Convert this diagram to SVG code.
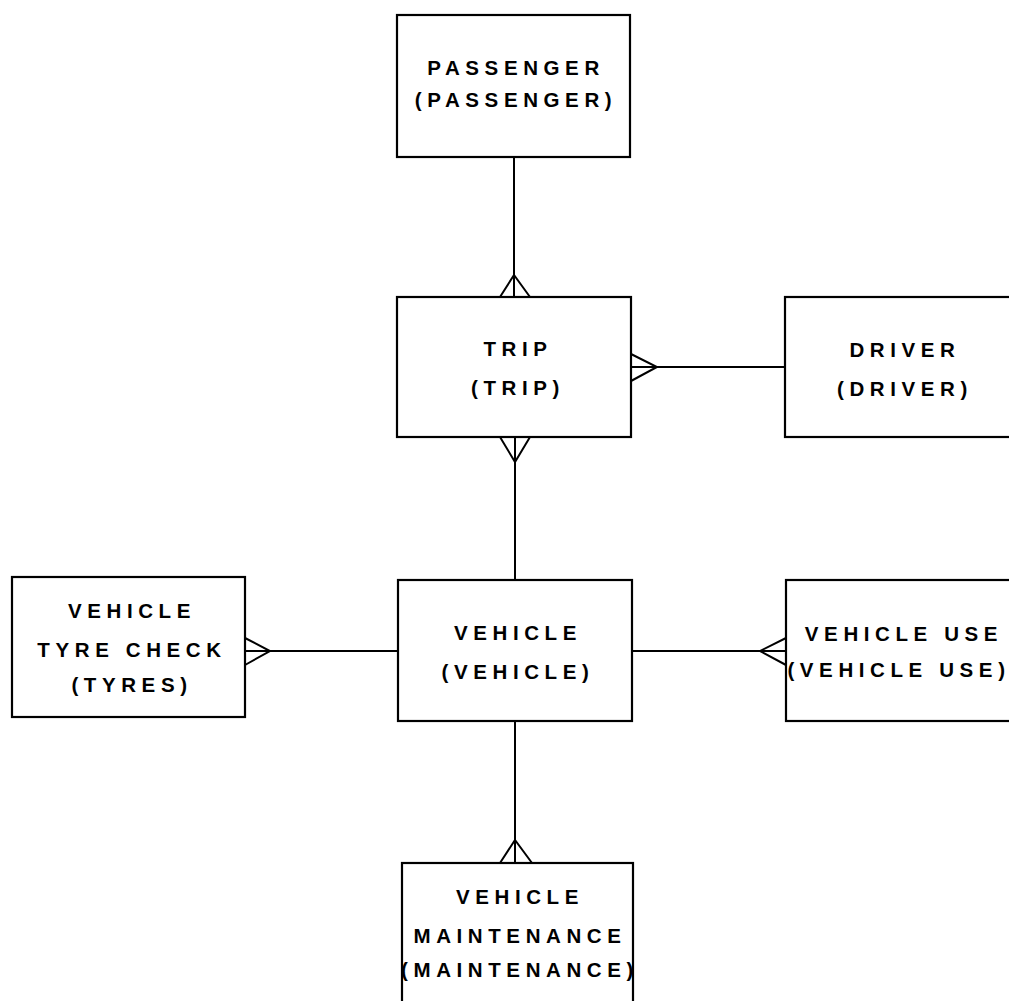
<svg xmlns="http://www.w3.org/2000/svg" width="1009" height="1001" viewBox="0 0 1009 1001">
<style>
  .box { fill: #fff; stroke: #000; stroke-width: 2.2; }
  .lbl { font-family: "Liberation Sans", Arial, sans-serif; font-size: 20.5px; font-weight: bold; letter-spacing: 5.6px; text-anchor: middle; fill: #000; }
  .con { fill: none; stroke: #000; stroke-width: 2; }
</style>
<rect width="1009" height="1001" fill="#fff"/>
<g id="connectors">
  <line class="con" x1="514" y1="157" x2="514" y2="297"/>
  <path class="con" d="M500 297 L514 275 L530 297 M514 275 L514 297"/>
  <line class="con" x1="631" y1="367" x2="785" y2="367"/>
  <path class="con" d="M631 354 L657 367 L631 381"/>
  <line class="con" x1="515" y1="437" x2="515" y2="580"/>
  <path class="con" d="M500 437 L515 462 L530 437 M515 437 L515 462"/>
  <line class="con" x1="245" y1="651" x2="398" y2="651"/>
  <path class="con" d="M245 638 L270 651 L245 665"/>
  <line class="con" x1="632" y1="651" x2="786" y2="651"/>
  <path class="con" d="M786 638 L760 651 L786 665"/>
  <line class="con" x1="515" y1="721" x2="515" y2="863"/>
  <path class="con" d="M500 863 L515 840 L532 863 M515 840 L515 863"/>
</g>
<g id="passenger">
  <rect class="box" x="397" y="15" width="233" height="142"/>
  <text class="lbl" x="516" y="75">PASSENGER</text>
  <text class="lbl" x="516" y="107">(PASSENGER)</text>
</g>
<g id="trip">
  <rect class="box" x="397" y="297" width="234" height="140"/>
  <text class="lbl" x="518" y="356">TRIP</text>
  <text class="lbl" x="518" y="395">(TRIP)</text>
</g>
<g id="driver">
  <rect class="box" x="785" y="297" width="240" height="140"/>
  <text class="lbl" x="905" y="357">DRIVER</text>
  <text class="lbl" x="905" y="396">(DRIVER)</text>
</g>
<g id="vehicle">
  <rect class="box" x="398" y="580" width="234" height="141"/>
  <text class="lbl" x="518" y="640">VEHICLE</text>
  <text class="lbl" x="518" y="679">(VEHICLE)</text>
</g>
<g id="tyres">
  <rect class="box" x="12" y="577" width="233" height="140"/>
  <text class="lbl" x="132" y="618">VEHICLE</text>
  <text class="lbl" x="132" y="657">TYRE CHECK</text>
  <text class="lbl" x="132" y="692">(TYRES)</text>
</g>
<g id="vehicle-use">
  <rect class="box" x="786" y="580" width="240" height="141"/>
  <text class="lbl" x="904" y="641">VEHICLE USE</text>
  <text class="lbl" x="899" y="677">(VEHICLE USE)</text>
</g>
<g id="maintenance">
  <rect class="box" x="402" y="863" width="231" height="160"/>
  <text class="lbl" x="520" y="904">VEHICLE</text>
  <text class="lbl" x="520" y="943">MAINTENANCE</text>
  <text class="lbl" x="520" y="977">(MAINTENANCE)</text>
</g>
</svg>
